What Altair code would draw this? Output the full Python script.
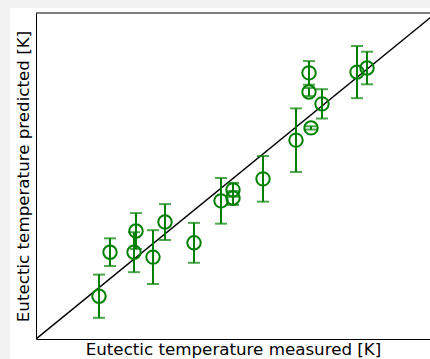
import altair as alt
import pandas as pd

measured = [526, 548, 596, 600, 634, 658, 716, 770, 794, 794, 854, 920, 950, 946, 946, 972, 1042, 1062]
predicted = [505, 613, 613, 665, 601, 687, 636, 739, 766, 746, 793, 888, 918, 1053, 1006, 977, 1055, 1065]
errors = [53, 34, 49, 44, 66, 44, 49, 56, 17, 17, 56, 78, 4, 29, 10, 36, 64, 40]

x_lo, x_hi = 400, 1188
y_lo, y_hi = 400, 1200

df = pd.DataFrame({"measured": measured, "predicted": predicted, "err": errors})
df["ylo"] = df["predicted"] - df["err"]
df["yhi"] = df["predicted"] + df["err"]

diag = pd.DataFrame({"a": [400, 1200], "b": [400, 1200]})

GREEN = "#008000"
xs = alt.Scale(domain=[x_lo, x_hi], nice=False, zero=False)
ys = alt.Scale(domain=[y_lo, y_hi], nice=False, zero=False)

xax = alt.Axis(title="Eutectic temperature measured [K]", labels=False, ticks=False, grid=False,
               domain=True, domainColor="#000", domainWidth=1, titleFont="DejaVu Sans", titleFontSize=16.7,
               titleFontWeight="normal", titleColor="#000", titlePadding=2, zindex=1)
yax = alt.Axis(title="Eutectic temperature predicted [K]", labels=False, ticks=False, grid=False,
               domain=True, domainColor="#000", domainWidth=1, titleFont="DejaVu Sans", titleFontSize=16.7,
               titleFontWeight="normal", titleColor="#000", titlePadding=4, zindex=1)

bg = alt.Chart(pd.DataFrame({"k": [0]})).mark_rect(fill="white").encode(
    x=alt.value(-26), x2=alt.value(600), y=alt.value(-5), y2=alt.value(600))

top = alt.Chart(pd.DataFrame({"k": [0]})).mark_rule(color="#000", strokeWidth=1).encode(
    x=alt.value(0), x2=alt.value(394), y=alt.value(0))

line = alt.Chart(diag).mark_line(color="#000", strokeWidth=1.5, clip=True).encode(
    x=alt.X("a:Q", scale=xs, axis=xax), y=alt.Y("b:Q", scale=ys, axis=yax))

rules = alt.Chart(df).mark_rule(color=GREEN, strokeWidth=2).encode(
    x=alt.X("measured:Q", scale=xs), y=alt.Y("ylo:Q", scale=ys), y2="yhi:Q")

caps_lo = alt.Chart(df).mark_tick(color=GREEN, thickness=2, size=12, orient="horizontal").encode(
    x=alt.X("measured:Q", scale=xs), y=alt.Y("ylo:Q", scale=ys))
caps_hi = alt.Chart(df).mark_tick(color=GREEN, thickness=2, size=12, orient="horizontal").encode(
    x=alt.X("measured:Q", scale=xs), y=alt.Y("yhi:Q", scale=ys))

pts = alt.Chart(df).mark_point(shape="circle", filled=False, color=GREEN, size=180, strokeWidth=2, opacity=1).encode(
    x=alt.X("measured:Q", scale=xs), y=alt.Y("predicted:Q", scale=ys))

chart = alt.layer(bg, line, rules, caps_lo, caps_hi, pts, top).properties(
    width=394, height=326,
    autosize=alt.AutoSizeParams(type="none"),
    padding={"left": 36, "top": 13, "right": 0, "bottom": 20},
    background="#f2f2f2",
).configure_view(stroke=None)

chart.save("out.html", embed_options={"renderer": "svg", "actions": False})
